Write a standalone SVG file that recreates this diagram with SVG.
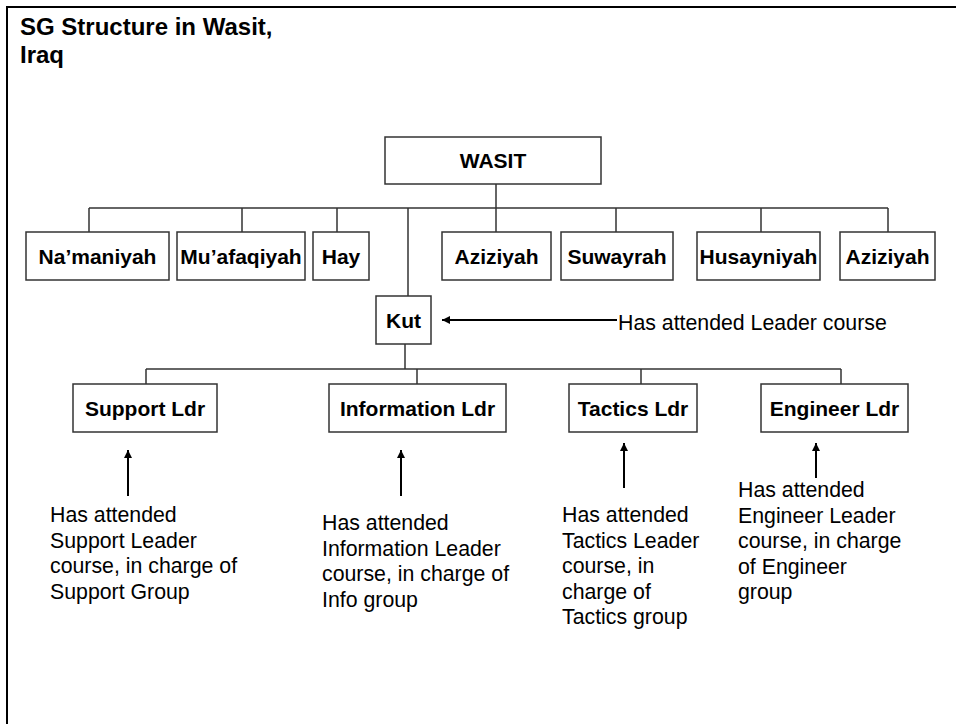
<svg xmlns="http://www.w3.org/2000/svg" width="956" height="724" viewBox="0 0 956 724">
<style>
  .frame{fill:none;stroke:#000;stroke-width:2}
  .box{fill:#fff;stroke:#333;stroke-width:1.5}
  .lbl{font-family:"Liberation Sans",Arial,sans-serif;font-size:21px;font-weight:bold;fill:#000;text-anchor:middle}
  .title{font-family:"Liberation Sans",Arial,sans-serif;font-size:24px;font-weight:bold;fill:#000}
  .note{font-family:"Liberation Sans",Arial,sans-serif;font-size:21.3px;fill:#000}
  .conn{fill:none;stroke:#333;stroke-width:1.5}
  .arr{fill:none;stroke:#000;stroke-width:2;marker-end:url(#ah)}
</style>
<defs>
  <marker id="ah" viewBox="0 0 10 10" refX="10" refY="5" markerUnits="userSpaceOnUse" markerWidth="10" markerHeight="8" orient="auto">
    <path d="M0,0 L10,5 L0,10 z" fill="#000"/>
  </marker>
</defs>
<rect width="956" height="724" fill="#fff"/>
<path class="frame" d="M7,724 V7 H956"/>
<g id="title">
  <text class="title" x="20" y="35">SG Structure in Wasit,</text>
  <text class="title" x="20" y="63">Iraq</text>
</g>
<g id="connectors">
  <path class="conn" d="M496,184 V232"/>
  <path class="conn" d="M89,208 H888"/>
  <path class="conn" d="M89,208 V232 M242,208 V232 M337,208 V232 M616,208 V232 M761,208 V232 M888,208 V232"/>
  <path class="conn" d="M408,208 V296"/>
  <path class="conn" d="M405,344 V369"/>
  <path class="conn" d="M146,369 H841"/>
  <path class="conn" d="M146,369 V384 M417,369 V384 M641,369 V384 M841,369 V384"/>
  <line class="arr" x1="617" y1="320" x2="442" y2="320"/>
  <line class="arr" x1="128" y1="496" x2="128" y2="450"/>
  <line class="arr" x1="401" y1="496" x2="401" y2="450"/>
  <line class="arr" x1="624" y1="488" x2="624" y2="443"/>
  <line class="arr" x1="816" y1="478" x2="816" y2="443"/>
</g>
<g id="wasit"><rect class="box" x="385" y="137" width="216" height="47"/><text class="lbl" x="493" y="168">WASIT</text></g>
<g id="namaniyah"><rect class="box" x="26" y="232" width="143" height="48"/><text class="lbl" x="97.5" y="264">Na’maniyah</text></g>
<g id="muafaqiyah"><rect class="box" x="177" y="232" width="128" height="48"/><text class="lbl" x="241" y="264">Mu’afaqiyah</text></g>
<g id="hay"><rect class="box" x="313" y="232" width="56" height="48"/><text class="lbl" x="341" y="264">Hay</text></g>
<g id="aziziyah1"><rect class="box" x="442" y="232" width="109" height="48"/><text class="lbl" x="496.5" y="264">Aziziyah</text></g>
<g id="suwayrah"><rect class="box" x="561" y="232" width="112" height="48"/><text class="lbl" x="617" y="264">Suwayrah</text></g>
<g id="husayniyah"><rect class="box" x="697" y="232" width="123" height="48"/><text class="lbl" x="758.5" y="264">Husayniyah</text></g>
<g id="aziziyah2"><rect class="box" x="840" y="232" width="95" height="48"/><text class="lbl" x="887.5" y="264">Aziziyah</text></g>
<g id="kut"><rect class="box" x="376" y="296" width="55" height="48"/><text class="lbl" x="403.5" y="327.5">Kut</text></g>
<g id="kut-note"><text class="note" x="618" y="330">Has attended Leader course</text></g>
<g id="support"><rect class="box" x="73" y="384" width="144" height="48"/><text class="lbl" x="145" y="415.5">Support Ldr</text></g>
<g id="information"><rect class="box" x="329" y="384" width="177" height="48"/><text class="lbl" x="417.5" y="415.5">Information Ldr</text></g>
<g id="tactics"><rect class="box" x="569" y="384" width="128" height="48"/><text class="lbl" x="633" y="415.5">Tactics Ldr</text></g>
<g id="engineer"><rect class="box" x="761" y="384" width="147" height="48"/><text class="lbl" x="834.5" y="415.5">Engineer Ldr</text></g>
<g id="support-note"><text class="note" x="50" y="522"><tspan x="50" y="522">Has attended</tspan><tspan x="50" y="547.5">Support Leader</tspan><tspan x="50" y="573">course, in charge of</tspan><tspan x="50" y="598.5">Support Group</tspan></text></g>
<g id="information-note"><text class="note" x="322" y="530"><tspan x="322" y="530">Has attended</tspan><tspan x="322" y="555.5">Information Leader</tspan><tspan x="322" y="581">course, in charge of</tspan><tspan x="322" y="606.5">Info group</tspan></text></g>
<g id="tactics-note"><text class="note" x="562" y="522"><tspan x="562" y="522">Has attended</tspan><tspan x="562" y="547.5">Tactics Leader</tspan><tspan x="562" y="573">course, in</tspan><tspan x="562" y="598.5">charge of</tspan><tspan x="562" y="624">Tactics group</tspan></text></g>
<g id="engineer-note"><text class="note" x="738" y="497"><tspan x="738" y="497">Has attended</tspan><tspan x="738" y="522.5">Engineer Leader</tspan><tspan x="738" y="548">course, in charge</tspan><tspan x="738" y="573.5">of Engineer</tspan><tspan x="738" y="599">group</tspan></text></g>
</svg>
